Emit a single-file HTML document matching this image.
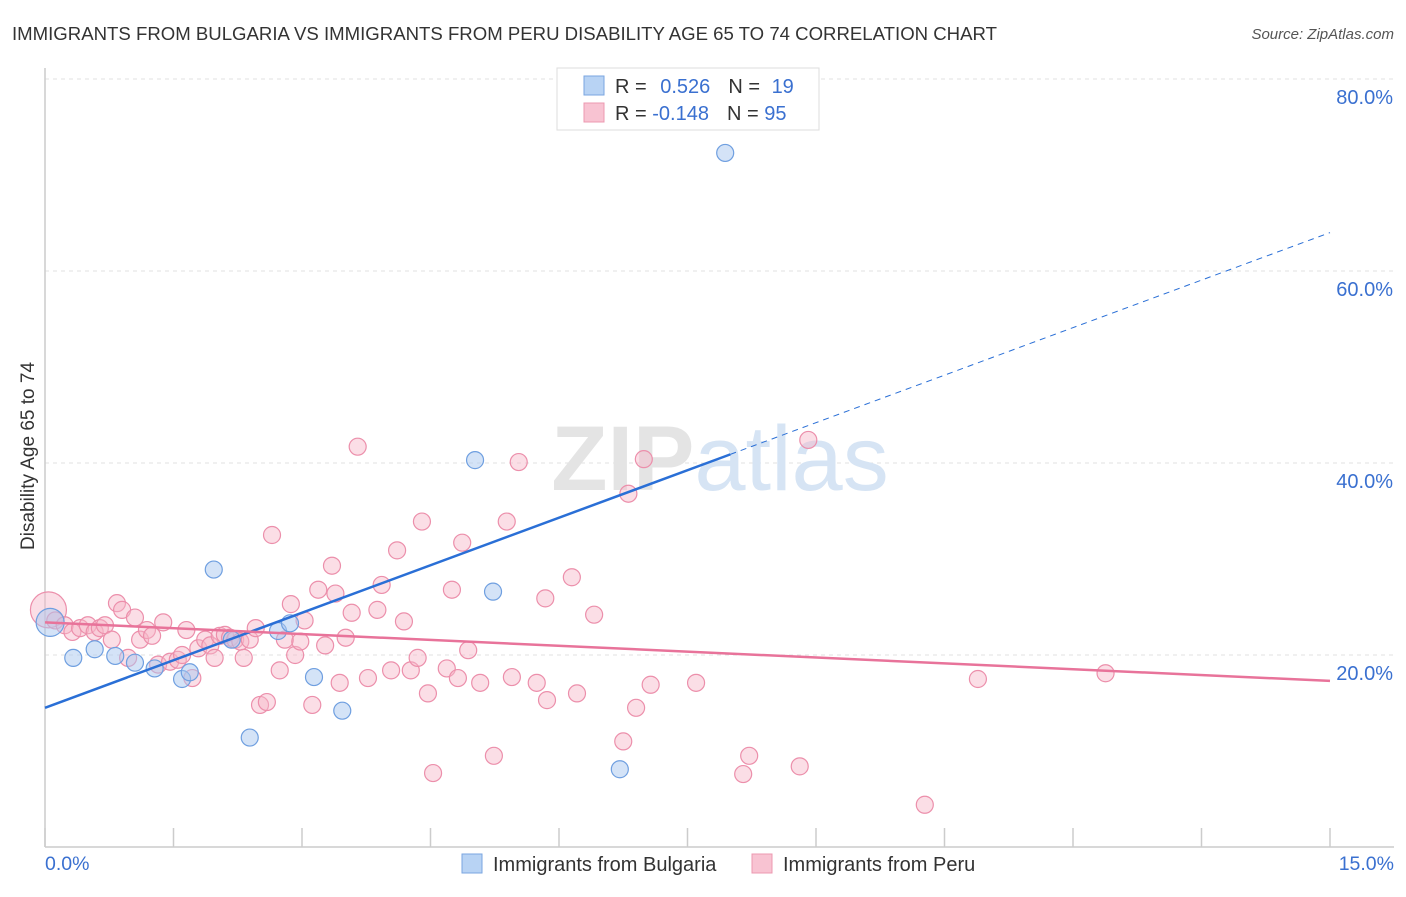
<!DOCTYPE html>
<html><head><meta charset="utf-8">
<style>
body{margin:0;background:#fff;font-family:"Liberation Sans",sans-serif;}
svg text{font-family:"Liberation Sans",sans-serif;}
</style></head>
<body>
<svg id="chart" width="1406" height="892" viewBox="0 0 1406 892" xmlns="http://www.w3.org/2000/svg">
<text x="12" y="40" font-size="18.6" fill="#333">IMMIGRANTS FROM BULGARIA VS IMMIGRANTS FROM PERU DISABILITY AGE 65 TO 74 CORRELATION CHART</text>
<text x="1394" y="39" font-size="15" fill="#555" font-style="italic" text-anchor="end">Source: ZipAtlas.com</text>
<g id="grid"></g>
<text x="720" y="490" font-size="92" text-anchor="middle" fill="#e4e4e4" font-family="Liberation Serif" font-weight="bold">ZIP<tspan fill="#d6e4f4" font-family="Liberation Sans" font-weight="normal">atlas</tspan></text>
<line x1="45" y1="847" x2="1394" y2="847" stroke="#ccc" stroke-width="1.5"/>
<line x1="45" y1="68" x2="45" y2="847" stroke="#ccc" stroke-width="1.5"/>
<g id="ticks"></g>
<g id="ylabels"></g>
<text transform="translate(34,456) rotate(-90)" font-size="19" fill="#333" text-anchor="middle">Disability Age 65 to 74</text>
<text x="45" y="870" font-size="19.5" fill="#3a70d0">0.0%</text>
<text x="1394" y="870" font-size="19.5" fill="#3a70d0" text-anchor="end">15.0%</text>
<g id="pts"></g>
<g id="trends"></g>
<g>
<rect x="557" y="68" width="262" height="62" fill="#fff" stroke="#ddd"/>
<rect x="584" y="76" width="20" height="19" fill="#b8d3f4" stroke="#7aa6e0"/>
<rect x="584" y="103" width="20" height="19" fill="#f8c3d2" stroke="#ec98b0"/>
<text x="615" y="93" font-size="20" fill="#333">R = <tspan fill="#3a70d0" dx="8">0.526</tspan><tspan dx="18" fill="#333">N = </tspan><tspan fill="#3a70d0" dx="6">19</tspan></text>
<text x="615" y="120" font-size="20" fill="#333">R = <tspan fill="#3a70d0">-0.148</tspan><tspan dx="18" fill="#333">N = </tspan><tspan fill="#3a70d0">95</tspan></text>
</g>
<g>
<rect x="462" y="854" width="20" height="19" fill="#b8d3f4" stroke="#7aa6e0"/>
<text x="493" y="871" font-size="20" fill="#333">Immigrants from Bulgaria</text>
</g>
<g>
<rect x="752" y="854" width="20" height="19" fill="#f8c3d2" stroke="#ec98b0"/>
<text x="783" y="871" font-size="20" fill="#333">Immigrants from Peru</text>
</g>
</svg>
<script>
const blueX=[0.06,0.33,0.58,0.82,1.05,1.28,1.60,1.69,1.97,2.18,2.39,2.72,2.86,3.14,3.47,5.02,5.23,6.71,7.94];
const blueY=[23.4,19.7,20.6,19.9,19.2,18.6,17.5,18.2,28.9,21.6,11.4,22.5,23.3,17.7,14.2,40.3,26.6,8.1,72.3];
const pinkX=[0.04,0.12,0.23,0.32,0.41,0.50,0.58,0.64,0.70,0.78,0.84,0.90,0.97,1.05,1.11,1.19,1.25,1.32,1.38,1.46,1.55,1.60,1.65,1.72,1.79,1.87,1.93,1.98,2.04,2.10,2.16,2.22,2.28,2.32,2.39,2.46,2.51,2.59,2.65,2.74,2.80,2.87,2.92,2.98,3.03,3.12,3.19,3.27,3.35,3.39,3.44,3.51,3.58,3.65,3.77,3.88,3.93,4.04,4.11,4.19,4.27,4.35,4.40,4.47,4.53,4.69,4.75,4.82,4.87,4.94,5.08,5.24,5.39,5.45,5.53,5.74,5.84,5.86,6.15,6.21,6.41,6.75,6.81,6.90,6.99,7.07,7.60,8.15,8.22,8.81,8.91,10.27,10.89,12.38];
const pinkY=[24.7,23.6,23.1,22.4,22.8,23.1,22.4,22.8,23.1,21.6,25.4,24.7,19.7,23.9,21.6,22.6,22.0,19.0,23.4,19.3,19.5,20.0,22.6,17.6,20.7,21.6,21.0,19.7,22.0,22.1,21.8,21.6,21.4,19.7,21.6,22.8,14.8,15.1,32.5,18.4,21.6,25.3,20.0,21.4,23.6,14.8,26.8,21.0,29.3,26.4,17.1,21.8,24.4,41.7,17.6,24.7,27.3,18.4,30.9,23.5,18.4,19.7,33.9,16.0,7.7,18.6,26.8,17.6,31.7,20.5,17.1,9.5,33.9,17.7,40.1,17.1,25.9,15.3,28.1,16.0,24.2,11.0,36.8,14.5,40.4,16.9,17.1,7.6,9.5,8.4,42.4,4.4,17.5,18.1];
const yTicks=[20,40,60,80];
const yTickLabels=["20.0%","40.0%","60.0%","80.0%"];
const xTicks=[0,1.5,3,4.5,6,7.5,9,10.5,12,13.5,15];
const blueTrend=[14.5,64.0];
const pinkTrend=[23.4,17.3];
const NS="http://www.w3.org/2000/svg";
const X=v=>45+v*(1285/15);
const Y=v=>847-v*9.6;
function mk(tag,attrs,parent){const e=document.createElementNS(NS,tag);for(const k in attrs)e.setAttribute(k,attrs[k]);parent.appendChild(e);return e;}
const grid=document.getElementById('grid'),ticks=document.getElementById('ticks'),yl=document.getElementById('ylabels');
yTicks.forEach((t,i)=>{
 const l=mk('line',{x1:45,x2:1394,y1:Y(t),y2:Y(t),stroke:'#e2e2e2','stroke-dasharray':'4,4'},grid);
 
 
 const tx=mk('text',{x:1393,y:Y(t)+25,'font-size':20,fill:'#3a70d0','text-anchor':'end'},yl);
 tx.textContent=yTickLabels[i];
 
 
});
xTicks.forEach(t=>{
 const l=mk('line',{x1:X(t),x2:X(t),y1:828,y2:847,stroke:'#ccc','stroke-width':1.5},ticks);
 
 
});
const pts=document.getElementById('pts');
pinkX.forEach((x,i)=>{
 const c=mk('circle',{cx:X(x),cy:Y(pinkY[i]),r:i==0?18:8.5,fill:'#f6b5c7','fill-opacity':0.45,stroke:'#ec8fab','stroke-width':1.2},pts);
 
 
});
blueX.forEach((x,i)=>{
 const c=mk('circle',{cx:X(x),cy:Y(blueY[i]),r:i==0?14:8.5,fill:'#a9c8f0','fill-opacity':0.5,stroke:'#6f9fe0','stroke-width':1.2},pts);
 
 
});
const tr=document.getElementById('trends');
const bAt=x=>blueTrend[0]+(blueTrend[1]-blueTrend[0])*x/15;
const bs=mk('line',{x1:X(0),y1:Y(bAt(0)),x2:X(8),y2:Y(bAt(8)),stroke:'#2a6fd6','stroke-width':2.5},tr);


const bd=mk('line',{x1:X(8),y1:Y(bAt(8)),x2:X(15),y2:Y(bAt(15)),stroke:'#2a6fd6','stroke-width':1,'stroke-dasharray':'6,5'},tr);


const pl=mk('line',{x1:X(0),y1:Y(pinkTrend[0]),x2:X(15),y2:Y(pinkTrend[1]),stroke:'#e8739a','stroke-width':2.5},tr);


</script>
</body></html>
